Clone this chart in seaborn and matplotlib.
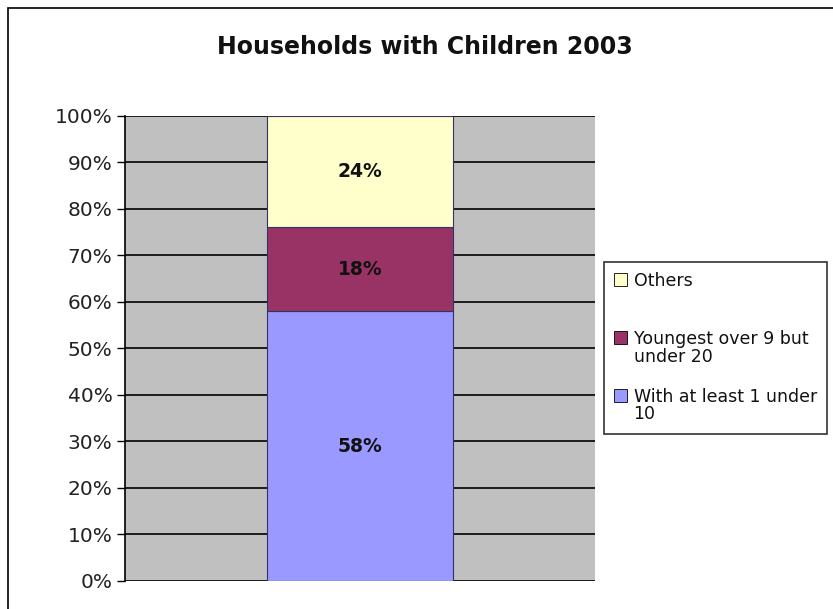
import seaborn as sns
import matplotlib.pyplot as plt
import pandas as pd
from matplotlib.patches import Rectangle, Patch
from matplotlib.ticker import PercentFormatter

# Share of households (percent), bottom to top
categories = ['With at least 1 under\n10', 'Youngest over 9 but\nunder 20', 'Others\n']
shares = [58, 18, 24]
colors = ['#9999FF', '#993366', '#FFFFCC']
year = ['2003']

sns.set_style('white')
plt.rcParams['font.family'] = ['DejaVu Sans']

fig = plt.figure(figsize=(8.33, 6.09), dpi=100)
ax = fig.add_axes([0.150, 0.046, 0.564, 0.764])
ax.set_facecolor('#C0C0C0')

bottom = 0
for cat, val, col in zip(categories, shares, colors):
    df = pd.DataFrame({'year': year, 'share': [val]})
    sns.barplot(data=df, x='year', y='share', color=col, width=0.396,
                bottom=bottom, edgecolor='#333366', linewidth=0.8, ax=ax,
                saturation=1, zorder=3)
    ax.text(0, bottom + val / 2, f'{val}%', ha='center', va='center',
            fontsize=13.5, fontweight='bold', color='#111111', zorder=4)
    bottom += val

ax.set_xlim(-0.5, 0.5)
ax.set_ylim(0, 100)
ax.set_yticks(range(0, 101, 10))
ax.yaxis.set_major_formatter(PercentFormatter(decimals=0))
ax.yaxis.grid(True, color='black', linewidth=1.2, zorder=1)
ax.set_axisbelow(True)
ax.set_xticks([])
ax.set_xlabel('')
ax.set_ylabel('')
ax.tick_params(axis='y', left=True, length=6, width=1, color='black',
               labelsize=14.5, pad=3, labelcolor='#222222')
for s in ['top', 'right', 'bottom']:
    ax.spines[s].set_visible(False)
ax.spines['left'].set_color('black')
ax.spines['left'].set_linewidth(1.2)

fig.text(0.510, 0.923, 'Households with Children 2003', ha='center',
         va='center', fontsize=17, fontweight='bold', color='#111111')

# legend, top item first
handles = [Patch(facecolor=c, edgecolor='black', linewidth=0.6)
           for c in colors[::-1]]
fs = 12.5
leg = fig.legend(handles, categories[::-1], loc='upper left',
                 bbox_to_anchor=(604 / 833, 1 - 262 / 609), fontsize=fs,
                 frameon=True, fancybox=False, edgecolor='black',
                 handlelength=0.75, handleheight=0.75, handletextpad=0.35,
                 labelspacing=1.3, borderpad=0.6, borderaxespad=0)
leg.get_frame().set_linewidth(1.2)
for t in leg.get_texts():
    t.set_linespacing(0.95)
    t.set_color('#111111')
# lift the boxes to the first text line
for h in leg.legend_handles:
    h.set_y(h.get_y() + fs * 0.65)

# outer chart border
fig.patches.append(Rectangle((8 / 833, -0.05), 1.1, 1 - 8 / 609 + 0.05,
                             transform=fig.transFigure, fill=False,
                             edgecolor='black', linewidth=1.2))

fig.savefig('out.png', dpi=100)
